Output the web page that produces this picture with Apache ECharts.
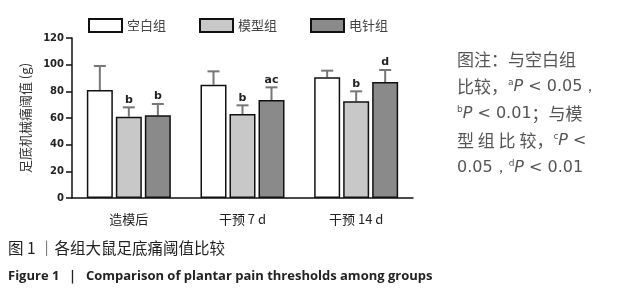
<!DOCTYPE html>
<html><head><meta charset="utf-8">
<script src="https://cdn.jsdelivr.net/npm/echarts@6/dist/echarts.min.js"></script>
<style>html,body{margin:0;padding:0;background:#fff}#c{width:624px;height:300px}</style>
</head><body><div id="c"></div>
<script>
const categories = ['造模后', '干预 7 d', '干预 14 d'];
const seriesNames = ['空白组', '模型组', '电针组'];
const blankMean = [81, 85, 90.5];
const blankSD = [18, 10, 5];
const modelMean = [61, 63, 72.5];
const modelSD = [7, 6.5, 7.5];
const eaMean = [62, 73.5, 87];
const eaSD = [8.5, 9.5, 9];
const blankMarks = ['', '', ''];
const modelMarks = ['b', 'b', 'b'];
const eaMarks = ['b', 'ac', 'd'];
const yTicks = [0, 20, 40, 60, 80, 100, 120];

const means = [blankMean, modelMean, eaMean];
const sds = [blankSD, modelSD, eaSD];
const marks = [blankMarks, modelMarks, eaMarks];
const colors = ['#ffffff', '#c8c8c8', '#8a8a8a'];
const BW = 26, GAP = 3;

const chart = echarts.init(document.getElementById('c'));
const series = [];
seriesNames.forEach((name, i) => {
  series.push({
    name, type: 'bar', barWidth: BW, barGap: (GAP / BW * 100) + '%',
    data: means[i],
    itemStyle: { color: colors[i], borderColor: '#111', borderWidth: 1.5 },
    z: 3
  });
});
seriesNames.forEach((name, i) => {
  series.push({
    type: 'custom', name: name + '_err',
    data: means[i].map((m, k) => [k, m, m + sds[i][k], marks[i][k]]),
    z: 2,
    renderItem: (params, api) => {
      const off = (i - 1) * (BW + GAP);
      const base = api.coord([api.value(0), api.value(1)]);
      const top = api.coord([api.value(0), api.value(2)]);
      const x = base[0] + off;
      const children = [
        { type: 'line', shape: { x1: x, y1: base[1], x2: x, y2: top[1] }, style: { stroke: '#777', lineWidth: 2 } },
        { type: 'line', shape: { x1: x - 6, y1: top[1], x2: x + 6, y2: top[1] }, style: { stroke: '#777', lineWidth: 2 } }
      ];
      const mk = marks[i][params.dataIndex];
      if (mk) children.push({ type: 'text', style: { text: mk, x: x, y: top[1] - 2, align: 'center', verticalAlign: 'bottom', fontSize: 11, fontWeight: 'bold', fill: '#222', fontFamily: 'DejaVu Sans' } });
      return { type: 'group', children };
    }
  });
});

const noteFont = 17;
const noteStyle = { fontSize: noteFont, fill: '#555', fontFamily: 'Noto Sans CJK SC' };
const rich = {
  s: { fontSize: 9, fill: '#555', verticalAlign: 'top', padding: [0, 0, 8, 0], fontFamily: 'DejaVu Sans' },
  p: { fontSize: 16, fontStyle: 'italic', fill: '#555', fontFamily: 'DejaVu Sans' },
  n: { fontSize: 16, fill: '#555', fontFamily: 'DejaVu Sans' }
};
const noteLines = [
  '图注：与空白组',
  '比较，{s|a}{p|P}{n| < 0.05，}',
  '{s|b}{p|P}{n| < 0.01}；与模',
  '型 组 比 较，{s|c}{p|P}{n| <}',
  '{n|0.05，}{s|d}{p|P}{n| < 0.01}'
];
const noteY = [62, 89, 116, 143, 170];

chart.setOption({
  animation: false,
  textStyle: { fontFamily: 'Noto Sans CJK SC' },
  legend: {
    data: seriesNames, left: 88, top: 18, padding: 0, itemWidth: 33, itemHeight: 13, itemGap: 33,
    icon: 'rect', textStyle: { fontSize: 13, color: '#444' }
  },
  grid: { left: 72, right: 211, top: 38, bottom: 102 },
  xAxis: {
    type: 'category', data: categories,
    axisLine: { lineStyle: { color: '#111', width: 1.5 } },
    axisTick: { alignWithLabel: true, length: 4, lineStyle: { color: '#111', width: 1.5 } },
    axisLabel: { fontSize: 13, color: '#222', margin: 15 }
  },
  yAxis: {
    type: 'value', min: 0, max: 120, interval: 20,
    name: '足底机械痛阈值 (g)', nameLocation: 'middle', nameGap: 40,
    nameTextStyle: { fontSize: 13, color: '#333' },
    axisLine: { show: true, lineStyle: { color: '#111', width: 1.5 } },
    axisTick: { show: true, length: 6, lineStyle: { color: '#111', width: 1.5 } },
    axisLabel: { fontSize: 10, fontWeight: 'bold', color: '#222', fontFamily: 'DejaVu Sans', formatter: v => yTicks.includes(v) ? String(v) : '' },
    splitLine: { show: false }
  },
  series,
  graphic: [
    ...noteLines.map((t, k) => ({
      type: 'text', left: 457, top: noteY[k] - 11,
      style: Object.assign({ text: t, rich }, noteStyle)
    })),
    { type: 'text', left: 8, top: 240, style: { text: '图 1 ｜各组大鼠足底痛阈值比较', fontSize: 15.5, fontWeight: 'normal', fill: '#222', fontFamily: 'Noto Sans CJK SC' } },
    { type: 'text', left: 8, top: 270, style: { text: 'Figure 1  ｜  Comparison of plantar pain thresholds among groups', fontSize: 13, fontWeight: 'bold', fill: '#222', fontFamily: 'Open Sans' } }
  ]
});
</script></body></html>
